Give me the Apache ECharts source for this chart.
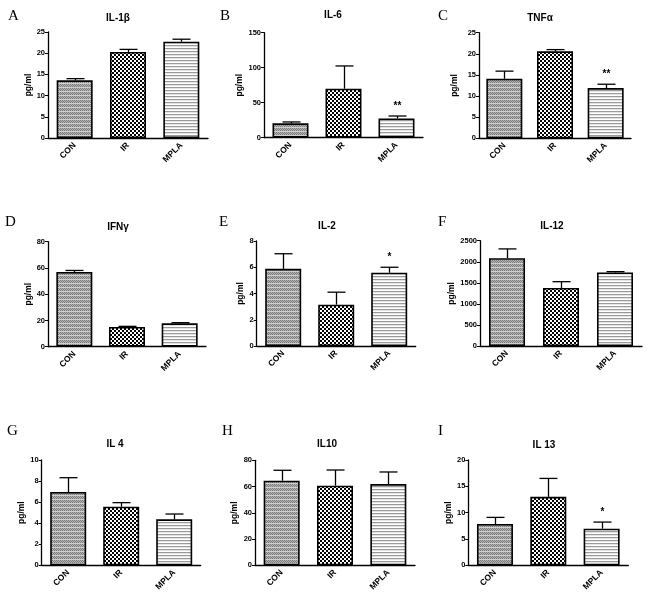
<!DOCTYPE html>
<html><head><meta charset="utf-8">
<script src="https://cdn.jsdelivr.net/npm/echarts@6/dist/echarts.min.js"></script>
<style>html,body{margin:0;padding:0;background:#fff}#c{width:650px;height:602px}</style>
</head><body><div id="c"></div>
<script>
const categories = ['CON', 'IR', 'MPLA'];
const panelLetters = ['A', 'B', 'C', 'D', 'E', 'F', 'G', 'H', 'I'];
const titles = ['IL-1β', 'IL-6', 'TNFα', 'IFNγ', 'IL-2', 'IL-12', 'IL 4', 'IL10', 'IL 13'];
const yMax = [25, 150, 25, 80, 8, 2500, 10, 80, 20];
const yInterval = [5, 50, 5, 20, 2, 500, 2, 20, 5];
const il1bMean = [13.6, 20.3, 22.7], il1bErr = [0.4, 0.6, 0.6];
const il6Mean = [20.5, 70, 27.5], il6Err = [2, 32.5, 3.5];
const tnfaMean = [14.1, 20.6, 11.9], tnfaErr = [1.8, 0.4, 0.9];
const ifngMean = [56.9, 15.0, 17.8], ifngErr = [1.2, 0.5, 0.5];
const il2Mean = [5.88, 3.15, 5.58], il2Err = [1.15, 0.95, 0.42];
const il12Mean = [2085, 1377, 1745], il12Err = [220, 150, 20];
const il4Mean = [6.96, 5.57, 4.37], il4Err = [1.36, 0.38, 0.5];
const il10Mean = [64.5, 60.7, 61.9], il10Err = [7.9, 11.9, 9.2];
const il13Mean = [7.85, 13.0, 6.96], il13Err = [1.25, 3.5, 1.25];
const significance = [['', '', ''], ['', '', '**'], ['', '', '**'], ['', '', ''], ['', '', '*'], ['', '', ''], ['', '', ''], ['', '', ''], ['', '', '*']];

const means = [il1bMean, il6Mean, tnfaMean, ifngMean, il2Mean, il12Mean, il4Mean, il10Mean, il13Mean];
const errs = [il1bErr, il6Err, tnfaErr, ifngErr, il2Err, il12Err, il4Err, il10Err, il13Err];

// layout: [left, top, width, height]
const gridBoxes = [
  [48, 32, 160, 106], [264, 32.7, 159, 105], [479, 32.7, 152, 105.6],
  [48, 241.7, 158, 105], [256.7, 241, 159, 105], [480, 240.7, 162, 105.3],
  [41.7, 460, 159, 105.3], [255, 460.3, 160, 105], [468.3, 460, 160, 105.3]
];
const nameGaps = [14, 19, 20, 14, 10, 21, 14, 16, 15];
const letterPos = [[13, 17], [225, 17], [443, 17], [10, 223], [224, 223], [443, 223], [12, 432], [227, 432], [443, 432]];
const titlePos = [[118, 18], [333, 15], [540, 18], [118, 227], [327, 226], [552, 226], [115, 444], [327, 444], [544, 445]];

function makePattern(w, h, draw) {
  const c = document.createElement('canvas');
  c.width = w; c.height = h;
  const ctx = c.getContext('2d');
  draw(ctx);
  return { image: c, repeat: 'repeat' };
}
const patCON = makePattern(4, 4, ctx => {
  ctx.fillStyle = '#b4b4b4'; ctx.fillRect(0, 0, 4, 4);
  ctx.fillStyle = '#7c7c7c';
  ctx.fillRect(0, 0, 1, 1); ctx.fillRect(2, 0, 1, 1); ctx.fillRect(1, 1, 1, 1); ctx.fillRect(3, 1, 1, 1);
  ctx.fillRect(0, 2, 1, 1); ctx.fillRect(2, 2, 1, 1);
  ctx.fillStyle = '#cfcfcf'; ctx.fillRect(0, 3, 4, 1);
});
const patIR = makePattern(4, 4, ctx => {
  ctx.fillStyle = '#ffffff'; ctx.fillRect(0, 0, 4, 4);
  ctx.fillStyle = '#000000'; ctx.fillRect(0, 0, 2, 2); ctx.fillRect(2, 2, 2, 2);
});
const patMPLA = makePattern(1, 3, ctx => {
  ctx.fillStyle = '#ffffff'; ctx.fillRect(0, 0, 1, 3);
  ctx.fillStyle = '#9a9a9a'; ctx.fillRect(0, 0, 1, 1);
  ctx.fillStyle = '#e4e4e4'; ctx.fillRect(0, 1, 1, 1);
});
const patterns = [patCON, patIR, patMPLA];

const font = 'Liberation Sans, Arial, sans-serif';
const grid = [], xAxis = [], yAxis = [], series = [], graphic = [];
for (let k = 0; k < 9; k++) {
  const g = gridBoxes[k];
  grid.push({ left: g[0], top: g[1], width: g[2], height: g[3], containLabel: false });
  xAxis.push({
    gridIndex: k, type: 'category', data: categories,
    axisLine: { lineStyle: { color: '#000', width: 1.3 } },
    axisTick: { alignWithLabel: true, length: 3, lineStyle: { color: '#000', width: 1 } },
    axisLabel: { rotate: 45, interval: 0, fontSize: 8.5, fontWeight: 'bold', color: '#000', fontFamily: font, margin: 6 }
  });
  yAxis.push({
    gridIndex: k, type: 'value', min: 0, max: yMax[k], interval: yInterval[k],
    name: 'pg/ml', nameLocation: 'middle', nameGap: nameGaps[k],
    nameTextStyle: { fontSize: 8.5, fontWeight: 'bold', color: '#000', fontFamily: font },
    axisLine: { show: true, lineStyle: { color: '#000', width: 1.3 } },
    axisTick: { show: true, length: 3, lineStyle: { color: '#000', width: 1 } },
    axisLabel: { fontSize: 7.5, fontWeight: 'bold', color: '#000', fontFamily: font, margin: 3, formatter: v => String(v) },
    splitLine: { show: false }
  });
  series.push({
    type: 'bar', xAxisIndex: k, yAxisIndex: k, barWidth: 36, silent: true,
    data: means[k].map((v, i) => ({ value: v, itemStyle: { color: patterns[i] } })),
    itemStyle: { borderColor: '#000', borderWidth: 1.6 }
  });
  const kk = k;
  series.push({
    type: 'custom', xAxisIndex: k, yAxisIndex: k, z: 5, silent: true,
    data: means[k].map((v, i) => [i, v, v + errs[k][i]]),
    renderItem: (params, api) => {
      const p0 = api.coord([api.value(0), api.value(1)]);
      const p1 = api.coord([api.value(0), api.value(2)]);
      const x = Math.round(p0[0]) + 0.5;
      const children = [
        { type: 'line', shape: { x1: x, y1: p0[1], x2: x, y2: p1[1] }, style: { stroke: '#000', lineWidth: 1.3 } },
        { type: 'line', shape: { x1: x - 9, y1: p1[1], x2: x + 9, y2: p1[1] }, style: { stroke: '#000', lineWidth: 1.3 } }
      ];
      const s = significance[kk][params.dataIndex];
      if (s) {
        children.push({ type: 'text', style: { text: s, x: x, y: p1[1] - 5, textAlign: 'center', textVerticalAlign: 'bottom', font: 'bold 10px ' + font, fill: '#000' } });
      }
      return { type: 'group', children };
    }
  });
  graphic.push({ type: 'text', left: letterPos[k][0] - 5, top: letterPos[k][1] - 8, style: { text: panelLetters[k], font: '15px "Liberation Serif", "Times New Roman", serif', fill: '#000' } });
  graphic.push({ type: 'text', x: titlePos[k][0], y: titlePos[k][1], style: { text: titles[k], font: 'bold 10px ' + font, fill: '#000', textAlign: 'center', textVerticalAlign: 'middle' } });
}

const chart = echarts.init(document.getElementById('c'));
chart.setOption({ animation: false, backgroundColor: '#fff', grid, xAxis, yAxis, series, graphic });
</script></body></html>
